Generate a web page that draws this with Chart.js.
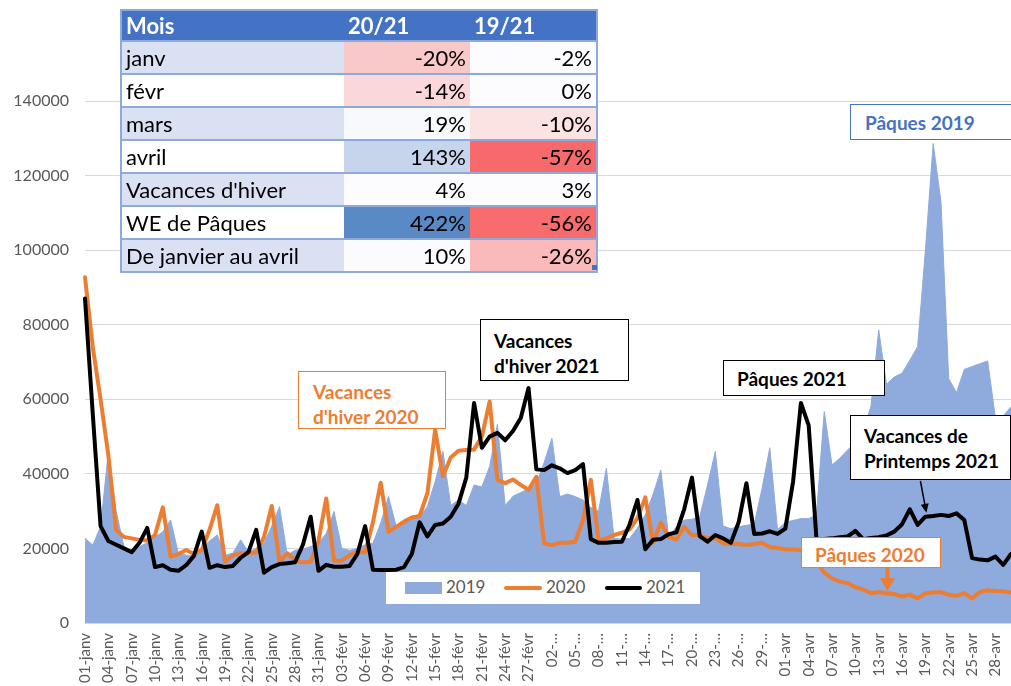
<!DOCTYPE html>
<html>
<head>
<meta charset="utf-8">
<script src="https://cdn.jsdelivr.net/npm/chart.js@4.4.1/dist/chart.umd.min.js"></script>
<style>
html,body{margin:0;padding:0;background:#fff;overflow:hidden;}
#wrap{position:relative;width:1011px;height:686px;overflow:hidden;font-family:Lato,"Open Sans",sans-serif;}
#c{position:absolute;left:0;top:0;}
.note{position:absolute;background:#fff;box-sizing:border-box;font-weight:bold;font-size:19px;line-height:25px;white-space:nowrap;}
#tbl{position:absolute;left:120px;top:9px;border-collapse:collapse;font-size:22px;color:#000;}
#tbl td{padding:0 4px;height:31px;box-sizing:border-box;border-bottom:2px solid #8EA9DB;white-space:nowrap;}
#tbl tr td:first-child{border-left:2px solid #8EA9DB;}
#tbl tr td:last-child{border-right:2px solid #8EA9DB;}
#tbl tr.hd td{background:#4472C4;color:#fff;font-weight:bold;border-top:2px solid #8EA9DB;}
#tbl td.num{text-align:right;}
#legend{position:absolute;left:386px;top:572px;width:314px;height:32px;background:#fff;color:#595959;font-size:17px;}
#legend span{position:absolute;}
</style>
</head>
<body>
<div id="wrap">
<canvas id="c" width="1011" height="686"></canvas>
<table id="tbl"></table>
<div id="handle" style="position:absolute;left:592px;top:265px;width:5px;height:5px;background:#4472C4;"></div>
<div id="legend"></div>
<div class="note" style="left:298px;top:371px;width:148px;height:58px;border:1.5px solid #ED7D31;color:#ED7D31;padding:7px 0 0 14px;">Vacances<br>d'hiver 2020</div>
<div class="note" style="left:480px;top:319px;width:149px;height:62px;border:1.5px solid #000;color:#000;padding:8px 0 0 13px;">Vacances<br>d'hiver 2021</div>
<div class="note" style="left:723px;top:360px;width:162px;height:36px;border:1.5px solid #000;color:#000;padding:5px 0 0 13px;">Pâques 2021</div>
<div class="note" style="left:850px;top:104px;width:200px;height:36px;border:1.5px solid #4472C4;color:#4472C4;padding:5px 0 0 14px;">Pâques 2019</div>
<div class="note" style="left:850px;top:415px;width:161px;height:65px;border:1.5px solid #000;color:#000;padding:7px 0 0 13px;">Vacances de<br>Printemps 2021</div>
<div class="note" style="left:801px;top:537px;width:140px;height:31px;border:1.5px solid #ED7D31;color:#ED7D31;padding:4px 0 0 13px;">Pâques 2020</div>
</div>
<script>
// ---- categories (dates) ----
const months = ['janv', 'févr', 'mars', 'avr'];
const monthLengths = [31, 28, 31, 30];
const categories = [];
months.forEach((m, k) => { for (let d = 1; d <= monthLengths[k]; d++) categories.push(String(d).padStart(2, '0') + '-' + m); });

// ---- tick labels shown every 3 days ----
const tickLabels = ['01-janv','04-janv','07-janv','10-janv','13-janv','16-janv','19-janv','22-janv','25-janv','28-janv','31-janv',
  '03-févr','06-févr','09-févr','12-févr','15-févr','18-févr','21-févr','24-févr','27-févr',
  '02-…','05-…','08-…','11-…','14-…','17-…','20-…','23-…','26-…','29-…',
  '01-avr','04-avr','07-avr','10-avr','13-avr','16-avr','19-avr','22-avr','25-avr','28-avr'];

// ---- series ----
const series2019 = [22700,20900,25800,45900,30000,20500,18800,20500,21500,23000,
  24500,27600,18700,18200,18000,20000,22000,23600,18200,18700,
  22300,19000,20000,21400,26000,31200,18200,19500,19800,20500,
  21500,24000,29900,20000,19500,20000,21000,21400,26800,34000,
  25800,27600,28000,28500,31200,38000,46000,31500,33000,31500,
  37000,36500,42000,53300,31500,34000,35000,36000,37500,43000,
  49500,33900,34600,33900,33000,31000,30000,41500,22700,22500,
  22700,25500,29000,34500,41000,23100,25800,27600,27800,28500,
  37000,46000,26000,25300,25800,26200,26500,36000,47000,25000,
  27000,27500,28000,28000,29000,56700,42400,44200,46400,48500,
  52000,58000,78600,64000,66000,67000,70500,74100,100000,128600,
  113000,65500,61800,68000,68800,69500,70300,55000,55500,58000];
const series2020 = [92700,74000,60000,45000,25000,23100,22700,22300,22100,23600,
  31000,17800,18500,19600,18500,19600,25000,31600,16400,18200,
  18700,18700,19000,23000,31400,16400,18700,16900,16200,16400,
  22000,33400,16700,16700,18200,19100,18900,27000,37600,24500,
  25800,27200,28300,28700,34800,51800,39400,44400,46200,46400,
  46500,50000,59400,38400,37500,38500,37000,35700,39200,21400,
  20900,21500,21500,21800,27600,38400,22100,22700,23600,24200,
  25100,28100,33700,21500,26900,23100,22400,25800,23600,23600,
  22700,22700,21400,21200,21200,20900,21200,21500,20400,20100,
  19800,19700,19600,19000,16500,13500,12000,11100,10700,9600,
  9000,8000,8300,8000,7800,7100,7600,6600,8000,8200,
  8300,7600,7300,8000,6600,8300,8800,8600,8500,8200];
const series2021 = [87000,56000,26000,22000,21000,20000,19000,21500,25500,15000,
  15500,14300,14000,15500,18000,24500,14800,15500,15000,15300,
  17500,19000,25000,13500,15000,15800,16000,16300,21000,28500,
  14000,15600,15100,15100,15300,18500,26000,14300,14200,14200,
  14300,15000,18500,27000,23200,26300,26700,28500,32000,39000,
  59000,47000,50000,51000,49000,51500,55000,63000,41200,41000,
  42300,41500,40200,41000,42600,22500,21500,21500,21700,21800,
  26500,33000,19800,22300,22500,23800,24300,30500,39000,23300,
  21800,23600,22700,21500,27000,37500,23900,24000,24600,23900,
  25300,38000,59000,53000,22500,22500,22700,23000,23200,24700,
  22500,22800,23000,23500,24500,26500,30500,26300,28500,28700,
  29000,28700,29400,27600,17400,17000,16800,17800,15600,18500];
const seriesNames = ['2019', '2020', '2021'];

// ---- table ----
const tableHeader = ['Mois', '20/21', '19/21'];
const tableRows = ['janv', 'févr', 'mars', 'avril', "Vacances d'hiver", 'WE de Pâques', 'De janvier au avril'];
const ratio2021vs2020 = ['-20%', '-14%', '19%', '143%', '4%', '422%', '10%'];
const ratio2021vs2019 = ['-2%', '0%', '-10%', '-57%', '3%', '-56%', '-26%'];
// styles (kept separate from data)
const rowBand = ['#D9E1F2', '#FFFFFF', '#D9E1F2', '#FFFFFF', '#D9E1F2', '#FFFFFF', '#D9E1F2'];
const col2Fill = ['#F9C9CA', '#FAD7D8', '#F8F9FD', '#C6D5EC', '#FCFCFF', '#5A8AC6', '#FBFBFE'];
const col3Fill = ['#FCFCFF', '#FCFCFF', '#FBE2E3', '#F8696B', '#FCFCFF', '#F86C6E', '#FAB9BA'];

(function buildTable() {
  const t = document.getElementById('tbl');
  let h = '<tr class="hd"><td style="width:223px">' + tableHeader[0] + '</td><td style="width:126px">' + tableHeader[1] +
          '</td><td style="width:127px">' + tableHeader[2] + '</td></tr>';
  tableRows.forEach((r, i) => {
    h += '<tr style="height:33px"><td style="background:' + rowBand[i] + '">' + r + '</td>' +
         '<td class="num" style="background:' + col2Fill[i] + '">' + ratio2021vs2020[i] + '</td>' +
         '<td class="num" style="background:' + col3Fill[i] + '">' + ratio2021vs2019[i] + '</td></tr>';
  });
  t.innerHTML = h;
})();

(function buildLegend() {
  const l = document.getElementById('legend');
  l.innerHTML =
    '<span style="left:19px;top:10px;width:37px;height:12px;background:#8FAADC;"></span>' +
    '<span style="left:60px;top:4px;">' + seriesNames[0] + '</span>' +
    '<span style="left:118px;top:14px;width:38px;height:4px;background:#ED7D31;border-radius:2px;"></span>' +
    '<span style="left:160px;top:4px;">' + seriesNames[1] + '</span>' +
    '<span style="left:219px;top:14px;width:37px;height:4px;background:#000;border-radius:2px;"></span>' +
    '<span style="left:260px;top:4px;">' + seriesNames[2] + '</span>';
})();

Chart.defaults.font.family = 'Lato, "Open Sans", sans-serif';

const arrowPlugin = {
  id: 'arrows',
  afterDatasetsDraw(chart) {
    const ctx = chart.ctx, xs = chart.scales.x, ys = chart.scales.y;
    ctx.save();
    // black thin arrow (Vacances de Printemps 2021)
    const bx = xs.getPixelForValue(108) + 1, by = ys.getPixelForValue(series2021[108]) - 4;
    const sx = bx - 6, sy = 481;
    const ang = Math.atan2(by - sy, bx - sx);
    ctx.strokeStyle = '#000'; ctx.fillStyle = '#000'; ctx.lineWidth = 1.5;
    ctx.beginPath(); ctx.moveTo(sx, sy); ctx.lineTo(bx - 8 * Math.cos(ang), by - 8 * Math.sin(ang)); ctx.stroke();
    ctx.beginPath(); ctx.moveTo(bx, by);
    ctx.lineTo(bx - 9 * Math.cos(ang) + 4 * Math.sin(ang), by - 9 * Math.sin(ang) - 4 * Math.cos(ang));
    ctx.lineTo(bx - 9 * Math.cos(ang) - 4 * Math.sin(ang), by - 9 * Math.sin(ang) + 4 * Math.cos(ang));
    ctx.closePath(); ctx.fill();
    // orange thick arrow (Pâques 2020)
    const ox = xs.getPixelForValue(103) + 1, oy = ys.getPixelForValue(series2020[103]) - 2;
    ctx.strokeStyle = '#ED7D31'; ctx.fillStyle = '#ED7D31'; ctx.lineWidth = 4;
    ctx.beginPath(); ctx.moveTo(ox, 567); ctx.lineTo(ox, oy - 12); ctx.stroke();
    ctx.beginPath(); ctx.moveTo(ox, oy); ctx.lineTo(ox - 7.5, oy - 13); ctx.lineTo(ox + 7.5, oy - 13); ctx.closePath(); ctx.fill();
    ctx.restore();
  }
};

new Chart(document.getElementById('c'), {
  type: 'line',
  data: {
    labels: categories,
    datasets: [
      { label: seriesNames[2], data: series2021, borderColor: '#000000', borderWidth: 4, pointRadius: 0, fill: false,
        tension: 0, borderJoinStyle: 'round', borderCapStyle: 'round', order: 0 },
      { label: seriesNames[1], data: series2020, borderColor: '#ED7D31', borderWidth: 4, pointRadius: 0, fill: false,
        tension: 0, borderJoinStyle: 'round', borderCapStyle: 'round', order: 1 },
      { label: seriesNames[0], data: series2019, borderColor: '#8FAADC', backgroundColor: '#8FAADC', borderWidth: 1,
        pointRadius: 0, fill: 'origin', tension: 0, order: 2 }
    ]
  },
  options: {
    responsive: false,
    animation: false,
    layout: { padding: { top: 101, right: 0, left: 0, bottom: 0 } },
    plugins: { legend: { display: false }, tooltip: { enabled: false } },
    scales: {
      x: {
        offset: false,
        grid: { display: false, drawTicks: false },
        border: { display: true, color: '#D9D9D9' },
        ticks: {
          autoSkip: false, minRotation: 90, maxRotation: 90, padding: 10,
          color: '#595959', font: { size: 15 },
          callback: (v, i) => (i % 3 === 0 ? tickLabels[i / 3] : '')
        },
        afterFit(s) { s.height = 63; s.paddingLeft = 0; s.paddingRight = 0; }
      },
      y: {
        min: 0, max: 140000,
        grid: { color: '#D9D9D9', drawTicks: false },
        border: { display: false },
        ticks: { stepSize: 20000, padding: 16, color: '#595959', font: { size: 16 },
          callback: (v) => String(v) },
        afterFit(s) { s.width = 85; }
      }
    }
  },
  plugins: [arrowPlugin]
});
</script>
</body>
</html>
